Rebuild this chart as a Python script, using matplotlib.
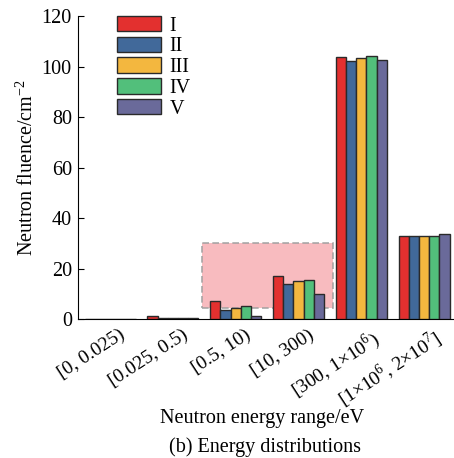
import matplotlib
matplotlib.use("Agg")
import matplotlib.pyplot as plt
import matplotlib.transforms as mtransforms
import numpy as np
from matplotlib.patches import Rectangle

categories = ["[0, 0.025)", "[0.025, 0.5)", "[0.5, 10)", "[10, 300)",
              r"[300, 1$\times$10$^{6}$)", r"[1$\times$10$^{6}$, 2$\times$10$^{7}$]"]
series_names = ["I", "II", "III", "IV", "V"]
s_I = [0.0, 1.0, 7.3, 17.0, 103.9, 32.9]
s_II = [0.0, 0.3, 3.6, 13.9, 102.3, 32.9]
s_III = [0.0, 0.3, 4.2, 15.0, 103.2, 33.0]
s_IV = [0.0, 0.3, 5.3, 15.4, 104.2, 33.0]
s_V = [0.0, 0.3, 1.3, 9.9, 102.4, 33.7]
colors = ["#E3302F", "#41699A", "#F3B73F", "#52BF7B", "#6A6A9A"]

plt.rcParams['font.family'] = ['Liberation Serif', 'DejaVu Serif']
plt.rcParams['mathtext.fontset'] = 'custom'
plt.rcParams['mathtext.rm'] = 'Liberation Serif'

FS = 14.5
fig = plt.figure(figsize=(4.54, 4.58), dpi=100)
ax = fig.add_axes([0.172, 0.3035, 0.83, 0.6615])

x = np.arange(len(categories))
w = 0.162
all_series = [s_I, s_II, s_III, s_IV, s_V]
for i, (vals, c, name) in enumerate(zip(all_series, colors, series_names)):
    ax.bar(x + (i - 2) * w, vals, width=w, color=c, edgecolor="#2a2a2a",
           linewidth=1.0, label=name, zorder=3)

# highlighted region
ax.add_patch(Rectangle((1.465, 4.5), 3.556 - 1.465, 30.2 - 4.5,
                       facecolor="#F8B4B8", edgecolor="#A0A0A0",
                       linestyle=(0, (4, 2)), linewidth=1.2, alpha=0.9, zorder=1))

ax.set_xlim(-0.51, 5.49)
ax.set_ylim(0, 120)
ax.set_yticks([0, 20, 40, 60, 80, 100, 120])
ax.set_xticks(x)
ax.set_xticklabels(categories, rotation=33, ha='right', rotation_mode='anchor', fontsize=14)
ax.tick_params(axis='x', length=0, pad=5)
offset = mtransforms.ScaledTranslation(9 / 100, 0, fig.dpi_scale_trans)
for lbl in ax.get_xticklabels():
    lbl.set_transform(lbl.get_transform() + offset)
ax.tick_params(axis='y', labelsize=FS, direction='in', length=4, pad=4.5)
for sp in ['top', 'right']:
    ax.spines[sp].set_visible(False)
ax.set_ylabel("Neutron fluence/cm$^{-2}$", fontsize=FS, labelpad=3)
ax.set_xlabel("Neutron energy range/eV", fontsize=FS, va='center')
ax.xaxis.set_label_coords(0.488, -0.327)

leg = ax.legend(loc='upper left', bbox_to_anchor=(0.104, 1.0), frameon=False,
                fontsize=FS, handlelength=2.15, handleheight=0.8,
                labelspacing=0.05, handletextpad=0.45, borderaxespad=0, borderpad=0)

fig.text(0.583, 0.024, "(b) Energy distributions", ha='center', va='center', fontsize=FS)

fig.savefig("out.png", dpi=100)
